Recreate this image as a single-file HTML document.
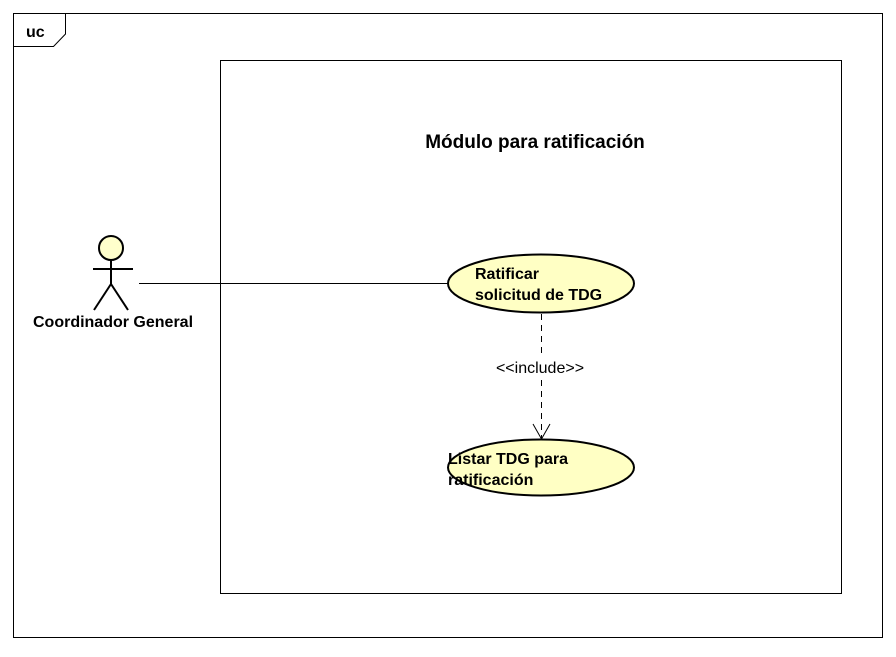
<!DOCTYPE html>
<html><head><meta charset="utf-8"><style>html,body{margin:0;padding:0;background:#fff}</style></head>
<body>
<svg width="896" height="652" xmlns="http://www.w3.org/2000/svg" font-family="Liberation Sans, Arial, sans-serif">
<rect x="13.5" y="13.5" width="869" height="624" fill="#fff" stroke="#000"/>
<polyline points="13.5,46.5 53.5,46.5 65.5,34 65.5,13.5" fill="none" stroke="#000"/>
<text x="26" y="37" font-size="16" font-weight="bold">uc</text>
<rect x="220.5" y="60.5" width="621" height="533" fill="#fff" stroke="#000"/>
<text x="535" y="148" font-size="19" font-weight="bold" text-anchor="middle">Módulo para ratificación</text>
<g stroke="#000" stroke-width="2" fill="none">
<circle cx="111" cy="248" r="12" fill="#ffffcc"/>
<line x1="111" y1="260" x2="111" y2="285"/>
<line x1="93" y1="269" x2="133" y2="269"/>
<line x1="111" y1="284" x2="94" y2="310"/>
<line x1="111" y1="284" x2="128" y2="310"/>
</g>
<text x="113" y="327" font-size="16" font-weight="bold" text-anchor="middle">Coordinador General</text>
<line x1="139" y1="283.5" x2="448" y2="283.5" stroke="#000"/>
<ellipse cx="541" cy="283.5" rx="93" ry="29" fill="#ffffc4" stroke="#000" stroke-width="2"/>
<text font-size="16" font-weight="bold"><tspan x="475" y="279">Ratificar</tspan><tspan x="475" y="300">solicitud de TDG</tspan></text>
<ellipse cx="541" cy="467.5" rx="93" ry="28" fill="#ffffc4" stroke="#000" stroke-width="2"/>
<text font-size="16" font-weight="bold"><tspan x="448" y="464">Listar TDG para</tspan><tspan x="448" y="485">ratificación</tspan></text>
<line x1="541.5" y1="314" x2="541.5" y2="438" stroke="#000" stroke-dasharray="6,5"/>
<polyline points="533,424 541.5,439 550,424" fill="none" stroke="#000"/>
<rect x="494" y="357" width="94" height="20" fill="#fff"/>
<text x="540" y="373" font-size="16" text-anchor="middle">&lt;&lt;include&gt;&gt;</text>
</svg>
</body></html>
